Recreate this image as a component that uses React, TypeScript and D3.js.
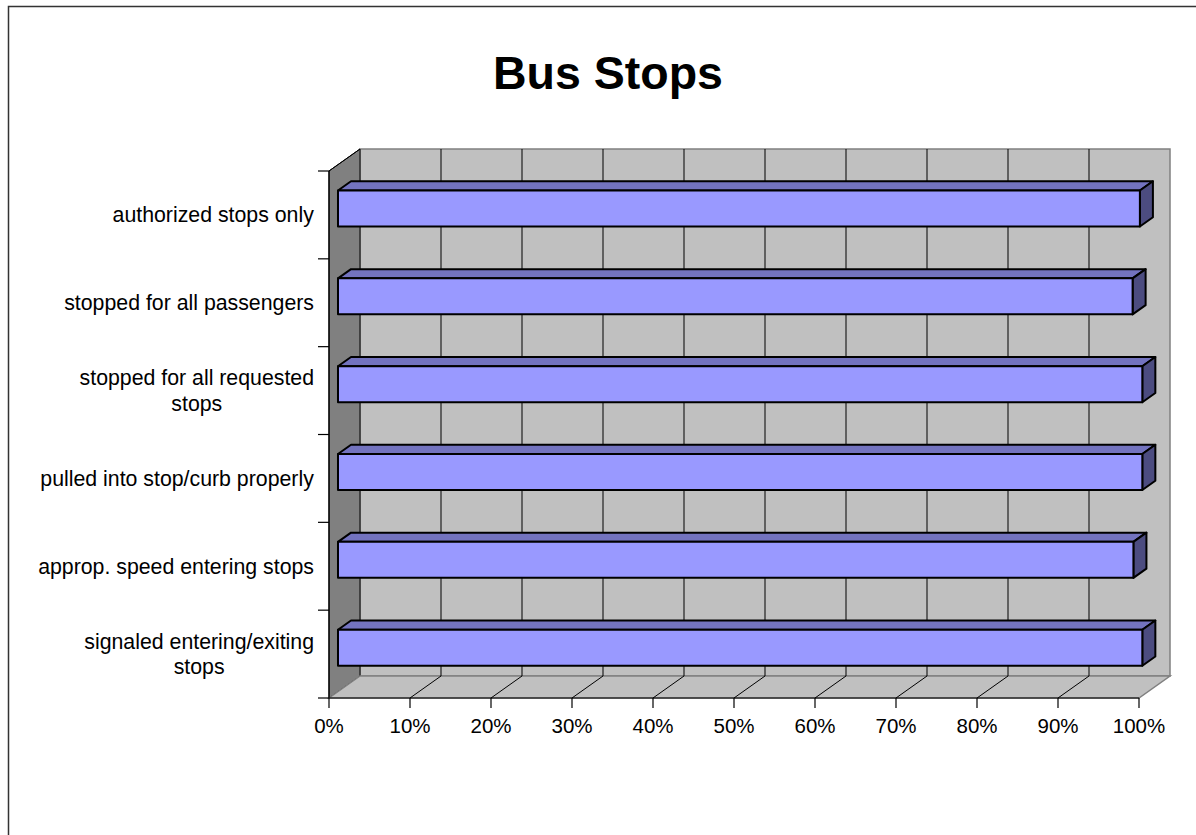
import React, { useEffect, useRef } from "react";
import * as d3 from "d3";

const title = "Bus Stops";
const categories = [
  "authorized stops only",
  "stopped for all passengers",
  "stopped for all requested\nstops",
  "pulled into stop/curb properly",
  "approp. speed entering stops",
  "signaled entering/exiting\nstops",
];
const values = [0.99, 0.981, 0.993, 0.993, 0.982, 0.993];
const xTicks = [0, 0.1, 0.2, 0.3, 0.4, 0.5, 0.6, 0.7, 0.8, 0.9, 1.0];

const W = 1196;
const H = 835;
const FONT = "'Liberation Sans', Arial, Helvetica, sans-serif";

export default function App() {
  const ref = useRef<SVGSVGElement | null>(null);

  useEffect(() => {
    const svg = d3.select(ref.current);
    svg.selectAll("*").remove();

    // plot geometry (front plane)
    const left = 329, right = 1139, top = 171, bottom = 698;
    const DX = 31, DY = -22; // depth offset
    const f0 = 0.29, f1 = 0.71; // bar depth range fractions

    const x = d3.scaleLinear().domain([0, 1]).range([left, right]);
    const y = d3.scaleBand<string>().domain(categories).range([top, bottom]).padding(0);
    const barH = 36;

    // outer border
    svg.append("rect")
      .attr("x", 8.5).attr("y", 6.5).attr("width", W + 20).attr("height", H + 20)
      .attr("fill", "#fff").attr("stroke", "#333").attr("stroke-width", 1.5);

    // title
    svg.append("text")
      .attr("x", 608).attr("y", 89)
      .attr("text-anchor", "middle")
      .attr("font-family", FONT).attr("font-weight", "bold").attr("font-size", 46.5)
      .text(title);

    // back wall
    svg.append("rect")
      .attr("x", left + DX).attr("y", top + DY)
      .attr("width", right - left).attr("height", bottom - top)
      .attr("fill", "#C0C0C0").attr("stroke", "#808080").attr("stroke-width", 1.5);

    // side wall
    const sidePts: [number, number][] = [
      [left, top], [left + DX, top + DY], [left + DX, bottom + DY], [left, bottom],
    ];
    svg.append("polygon")
      .attr("points", sidePts.map((p) => p.join(",")).join(" "))
      .attr("fill", "#808080").attr("stroke", "#000").attr("stroke-width", 1);

    // floor
    const floorPts: [number, number][] = [
      [left, bottom], [left + DX, bottom + DY], [right + DX, bottom + DY], [right, bottom],
    ];
    svg.append("polygon")
      .attr("points", floorPts.map((p) => p.join(",")).join(" "))
      .attr("fill", "#C0C0C0").attr("stroke", "#808080").attr("stroke-width", 1.5);

    // gridlines on back wall and floor
    const inner = xTicks.filter((t) => t > 0 && t < 1);
    svg.append("g").selectAll("line").data(inner).join("line")
      .attr("x1", (d) => x(d) + DX).attr("x2", (d) => x(d) + DX)
      .attr("y1", top + DY).attr("y2", bottom + DY)
      .attr("stroke", "#000").attr("stroke-width", 1);
    svg.append("g").selectAll("line").data(inner).join("line")
      .attr("x1", (d) => x(d)).attr("x2", (d) => x(d) + DX)
      .attr("y1", bottom).attr("y2", bottom + DY)
      .attr("stroke", "#000").attr("stroke-width", 1);
    // side wall top edge
    svg.append("line")
      .attr("x1", left).attr("y1", top).attr("x2", left + DX).attr("y2", top + DY)
      .attr("stroke", "#000").attr("stroke-width", 1);

    // bars
    const bdx0 = f0 * DX, bdy0 = f0 * DY;
    const bdx = (f1 - f0) * DX, bdy = (f1 - f0) * DY;
    const bars = svg.append("g");
    categories.forEach((c, i) => {
      const v = values[i];
      const cy = (y(c) as number) + y.bandwidth() / 2 + bdy0;
      const y0 = cy - barH / 2, y1 = cy + barH / 2;
      const x0 = x(0) + bdx0, x1 = x(v) + bdx0;
      const poly = (pts: [number, number][], fill: string) =>
        bars.append("polygon")
          .attr("points", pts.map((p) => p.join(",")).join(" "))
          .attr("fill", fill).attr("stroke", "#000").attr("stroke-width", 2)
          .attr("stroke-linejoin", "round");
      poly([[x0, y0], [x0 + bdx, y0 + bdy], [x1 + bdx, y0 + bdy], [x1, y0]], "#7373BF");
      poly([[x1, y0], [x1 + bdx, y0 + bdy], [x1 + bdx, y1 + bdy], [x1, y1]], "#4C4C80");
      poly([[x0, y0], [x1, y0], [x1, y1], [x0, y1]], "#9999FF");
    });

    // axes
    const axes = svg.append("g").attr("stroke", "#000").attr("stroke-width", 1.2);
    axes.append("line").attr("x1", left).attr("x2", left).attr("y1", top).attr("y2", bottom);
    axes.append("line").attr("x1", left).attr("x2", right).attr("y1", bottom).attr("y2", bottom);
    const bounds = categories.map((c) => y(c) as number).concat([bottom]);
    axes.selectAll("line.yt").data(bounds).join("line").attr("class", "yt")
      .attr("x1", left - 11).attr("x2", left).attr("y1", (d) => d).attr("y2", (d) => d);
    axes.selectAll("line.xt").data(xTicks).join("line").attr("class", "xt")
      .attr("x1", (d) => x(d)).attr("x2", (d) => x(d)).attr("y1", bottom).attr("y2", bottom + 10);

    // x tick labels
    svg.append("g").selectAll("text").data(xTicks).join("text")
      .attr("x", (d) => x(d)).attr("y", 733)
      .attr("text-anchor", "middle")
      .attr("font-family", FONT).attr("font-size", 20.5).attr("fill", "#000")
      .text((d) => d3.format(".0%")(d));

    // category labels
    const labelRight = 314;
    const lineH = 25.5;
    const lab = svg.append("g");
    categories.forEach((c) => {
      const lines = c.split("\n");
      const cy = (y(c) as number) + y.bandwidth() / 2;
      const t = lab.append("text")
        .attr("font-family", FONT).attr("font-size", 21.3).attr("fill", "#000")
        .attr("text-anchor", "middle");
      lines.forEach((ln, k) => {
        t.append("tspan")
          .attr("x", 0)
          .attr("y", cy + (k - (lines.length - 1) / 2) * lineH)
          .attr("dy", "0.35em")
          .text(ln);
      });
      const w = (t.node() as SVGTextElement).getBBox().width;
      t.selectAll("tspan").attr("x", labelRight - w / 2);
    });
  }, []);

  return (
    <svg
      ref={ref}
      width={W}
      height={H}
      style={{ position: "absolute", left: 0, top: 0, background: "#fff" }}
    />
  );
}
